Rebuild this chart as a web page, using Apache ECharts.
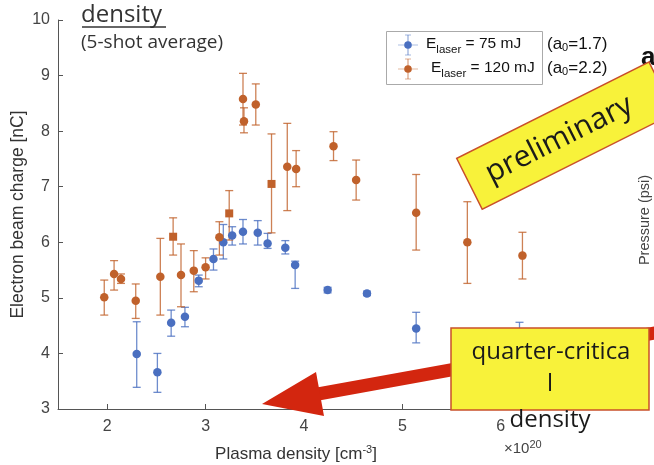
<!DOCTYPE html>
<html><head><meta charset="utf-8">
<script src="https://cdn.jsdelivr.net/npm/echarts@6/dist/echarts.min.js"></script>
<style>html,body{margin:0;padding:0;background:#fff;}#c{width:654px;height:465px;}</style>
</head><body><div id="c"></div>
<script>
// Blue series: E_laser = 75 mJ
const blueX   = [2.30, 2.51, 2.65, 2.79, 2.93, 3.08, 3.18, 3.27, 3.38, 3.53, 3.63, 3.81, 3.91, 4.24, 4.64, 5.14, 6.19];
const blueY   = [3.99, 3.66, 4.55, 4.66, 5.31, 5.70, 6.00, 6.12, 6.19, 6.17, 5.98, 5.90, 5.59, 5.14, 5.08, 4.45, 4.30];
const blueLo  = [3.39, 3.30, 4.31, 4.48, 5.20, 5.50, 5.70, 5.95, 5.97, 5.95, 5.89, 5.79, 5.17, 5.09, 5.04, 4.19, 4.04];
const blueHi  = [4.57, 4.00, 4.78, 4.83, 5.41, 5.88, 6.32, 6.28, 6.41, 6.39, 6.16, 6.03, 5.66, 5.19, 5.12, 4.74, 4.56];
// Brown series: E_laser = 120 mJ (circles)
const brownX  = [1.97, 2.07, 2.14, 2.29, 2.54, 2.75, 2.88, 3.00, 3.14, 3.38, 3.39, 3.51, 3.83, 3.92, 4.30, 4.53, 5.14, 5.66, 6.22];
const brownY  = [5.01, 5.43, 5.34, 4.95, 5.38, 5.41, 5.49, 5.55, 6.09, 8.58, 8.18, 8.48, 7.36, 7.32, 7.73, 7.12, 6.53, 6.00, 5.76];
const brownLo = [4.69, 5.14, 5.26, 4.63, 4.69, 4.84, 5.11, 5.34, 5.77, 8.11, 7.97, 8.11, 6.57, 7.00, 7.47, 6.76, 5.86, 5.26, 5.34];
const brownHi = [5.32, 5.67, 5.43, 5.25, 6.07, 5.97, 5.85, 5.72, 6.37, 9.04, 8.42, 8.85, 8.14, 7.65, 7.99, 7.48, 7.22, 6.73, 6.18];
// Brown series: square markers
const brownSqX  = [2.67, 3.24, 3.67];
const brownSqY  = [6.10, 6.52, 7.05];
const brownSqLo = [5.77, 6.04, 6.17];
const brownSqHi = [6.44, 6.93, 7.95];
// Axis ticks
const xTicks = [2, 3, 4, 5, 6];

const BLUE = '#4a6fc0', BROWN = '#c0612b';
const chart = echarts.init(document.getElementById('c'), null, {renderer:'canvas'});

function zip(xs, ys){ return xs.map((x,i)=>[x, ys[i]]); }
function errSeries(xs, lo, hi, color){
  return {
    type:'custom', silent:true, z:2,
    data: xs.map((x,i)=>[x, lo[i], hi[i]]),
    encode:{x:0, y:[1,2]},
    renderItem:(params, api)=>{
      const p1 = api.coord([api.value(0), api.value(1)]);
      const p2 = api.coord([api.value(0), api.value(2)]);
      const cw = 4;
      const st = {stroke:color, lineWidth:1.3, opacity:0.8};
      return {type:'group', children:[
        {type:'line', shape:{x1:p1[0],y1:p1[1],x2:p2[0],y2:p2[1]}, style:st},
        {type:'line', shape:{x1:p1[0]-cw,y1:p1[1],x2:p1[0]+cw,y2:p1[1]}, style:st},
        {type:'line', shape:{x1:p2[0]-cw,y1:p2[1],x2:p2[0]+cw,y2:p2[1]}, style:st}
      ]};
    }
  };
}

const RED = '#d3260f', YEL = '#f8f23a', YB = '#c9502a';

chart.setOption({
  animation:false,
  grid:{left:58, right:104, top:20, bottom:56, containLabel:false, outerBoundsMode:'none'},
  xAxis:{
    type:'value', min:1.5, max:6.5,
    axisLine:{show:true, lineStyle:{color:'#555', width:1}},
    axisTick:{show:true, inside:true, length:5, customValues:xTicks, lineStyle:{color:'#555'}},
    axisLabel:{customValues:xTicks, color:'#444', fontSize:16, fontFamily:'Liberation Sans', margin:10},
    splitLine:{show:false},
    name:'Plasma density [cm{sup|-3}]', nameLocation:'middle', nameGap:35, nameMoveOverlap:false,
    nameTextStyle:{color:'#333', fontSize:17, fontFamily:'Liberation Sans', padding:[0,16,0,0],
      rich:{sup:{fontSize:11, verticalAlign:'top', color:'#333', fontFamily:'Liberation Sans', padding:[0,0,9,0]}}}
  },
  yAxis:{
    type:'value', min:3, max:10, interval:1,
    axisLine:{show:true, lineStyle:{color:'#555', width:1}},
    axisTick:{show:true, inside:true, length:5, lineStyle:{color:'#555'}},
    axisLabel:{color:'#444', fontSize:16, fontFamily:'Liberation Sans', margin:8},
    splitLine:{show:false},
    name:'Electron beam charge [nC]', nameLocation:'middle', nameGap:31, nameMoveOverlap:false,
    nameTextStyle:{color:'#333', fontSize:17.5, fontFamily:'Liberation Sans'}
  },
  series:[
    errSeries(blueX, blueLo, blueHi, BLUE),
    errSeries(brownX, brownLo, brownHi, BROWN),
    errSeries(brownSqX, brownSqLo, brownSqHi, BROWN),
    {type:'scatter', data:zip(blueX, blueY), symbol:'circle', symbolSize:8.5, itemStyle:{color:BLUE, opacity:1}, z:3},
    {type:'scatter', data:zip(brownX, brownY), symbol:'circle', symbolSize:8.5, itemStyle:{color:BROWN, opacity:1}, z:3},
    {type:'scatter', data:zip(brownSqX, brownSqY), symbol:'rect', symbolSize:8, itemStyle:{color:BROWN, opacity:1}, z:3}
  ],
  graphic:[
    // title
    {type:'text', left:81, top:3, z:50, style:{text:'density', fontSize:24, fontFamily:'Open Sans', fill:'#333'}},
    {type:'line', z:50, shape:{x1:82,y1:27,x2:166,y2:27}, style:{stroke:'#333', lineWidth:1.5}},
    {type:'text', left:81, top:33, z:50, style:{text:'(5-shot average)', fontSize:19, fontFamily:'Open Sans', fill:'#333'}},
    // legend
    {type:'rect', z:50, shape:{x:386.5,y:31.5,width:156,height:53}, style:{fill:'#fff', stroke:'#aaa', lineWidth:1}},
    {type:'line', z:51, shape:{x1:398,y1:45,x2:418,y2:45}, style:{stroke:BLUE, lineWidth:1, opacity:0.45}},
    {type:'line', z:51, shape:{x1:408,y1:35,x2:408,y2:55}, style:{stroke:BLUE, lineWidth:1.2, opacity:0.6}},
    {type:'line', z:51, shape:{x1:405,y1:35,x2:411,y2:35}, style:{stroke:BLUE, lineWidth:1, opacity:0.5}},
    {type:'line', z:51, shape:{x1:405,y1:55,x2:411,y2:55}, style:{stroke:BLUE, lineWidth:1, opacity:0.5}},
    {type:'circle', z:52, shape:{cx:408,cy:45,r:3.8}, style:{fill:BLUE}},
    {type:'line', z:51, shape:{x1:398,y1:69,x2:418,y2:69}, style:{stroke:BROWN, lineWidth:1, opacity:0.45}},
    {type:'line', z:51, shape:{x1:408,y1:59,x2:408,y2:79}, style:{stroke:BROWN, lineWidth:1.2, opacity:0.6}},
    {type:'line', z:51, shape:{x1:405,y1:59,x2:411,y2:59}, style:{stroke:BROWN, lineWidth:1, opacity:0.5}},
    {type:'line', z:51, shape:{x1:405,y1:79,x2:411,y2:79}, style:{stroke:BROWN, lineWidth:1, opacity:0.5}},
    {type:'circle', z:52, shape:{cx:408,cy:69,r:3.8}, style:{fill:BROWN}},
    {type:'text', z:52, x:426, y:44, style:{text:'E{sub|laser} = 75 mJ', fontSize:15.5, fontFamily:'Liberation Sans', fill:'#111', verticalAlign:'middle',
      rich:{sub:{fontSize:11.5, fontFamily:'Liberation Sans', fill:'#111', padding:[11,0,0,0]}}}},
    {type:'text', z:52, x:431, y:68, style:{text:'E{sub|laser} = 120 mJ', fontSize:15.5, fontFamily:'Liberation Sans', fill:'#111', verticalAlign:'middle',
      rich:{sub:{fontSize:11.5, fontFamily:'Liberation Sans', fill:'#111', padding:[11,0,0,0]}}}},
    {type:'text', z:52, x:547, y:44, style:{text:'(a{s|0}=1.7)', fontSize:17, fontFamily:'Liberation Sans', fill:'#111', verticalAlign:'middle',
      rich:{s:{fontSize:11, fontFamily:'Liberation Sans', fill:'#111', padding:[7,0,0,0]}}}},
    {type:'text', z:52, x:547, y:68, style:{text:'(a{s|0}=2.2)', fontSize:17, fontFamily:'Liberation Sans', fill:'#111', verticalAlign:'middle',
      rich:{s:{fontSize:11, fontFamily:'Liberation Sans', fill:'#111', padding:[7,0,0,0]}}}},
    {type:'text', z:52, x:641, y:58, style:{text:'a', fontSize:26, fontWeight:'bold', fontFamily:'Liberation Sans', fill:'#111', verticalAlign:'middle'}},
    {type:'text', z:52, x:645, y:220, rotation:Math.PI/2, style:{text:'Pressure (psi)', fontSize:14.5, fontFamily:'Liberation Sans', fill:'#444', align:'center', verticalAlign:'middle'}},
    // x10^20
    {type:'text', z:52, x:504, y:449, style:{text:'×10{sup|20}', fontSize:15, fontFamily:'Liberation Sans', fill:'#444', verticalAlign:'middle',
      rich:{sup:{fontSize:11, fontFamily:'Liberation Sans', fill:'#444', padding:[0,0,9,0]}}}},
    // red arrow
    {type:'line', z:60, shape:{x1:660,y1:332,x2:318,y2:394}, style:{stroke:RED, lineWidth:13}},
    {type:'polygon', z:60, shape:{points:[[262,404],[316,372],[324,416]]}, style:{fill:RED}},
    // preliminary box
    {type:'group', z:70, x:456.7, y:158.3, rotation:26.6*Math.PI/180, children:[
      {type:'rect', z:70, shape:{x:0,y:0,width:215,height:57}, style:{fill:YEL, stroke:YB, lineWidth:1.5}},
      {type:'text', z:71, x:100, y:29, style:{text:'preliminary', fontSize:30, fontFamily:'Open Sans', fill:'#1a1a1a', align:'center', verticalAlign:'middle'}}
    ]},
    // quarter-critical box
    {type:'rect', z:70, shape:{x:451,y:328,width:198,height:82}, style:{fill:YEL, stroke:YB, lineWidth:1.5}},
    {type:'text', z:71, x:551, y:352, style:{text:'quarter-critica', fontSize:24, fontFamily:'Open Sans', fill:'#1a1a1a', align:'center', verticalAlign:'middle'}},
    {type:'text', z:71, x:550, y:384, style:{text:'l', fontSize:24, fontFamily:'Open Sans', fill:'#1a1a1a', align:'center', verticalAlign:'middle'}},
    {type:'text', z:71, x:550, y:420, style:{text:'density', fontSize:24, fontFamily:'Open Sans', fill:'#1a1a1a', align:'center', verticalAlign:'middle'}}
  ]
});
</script></body></html>
